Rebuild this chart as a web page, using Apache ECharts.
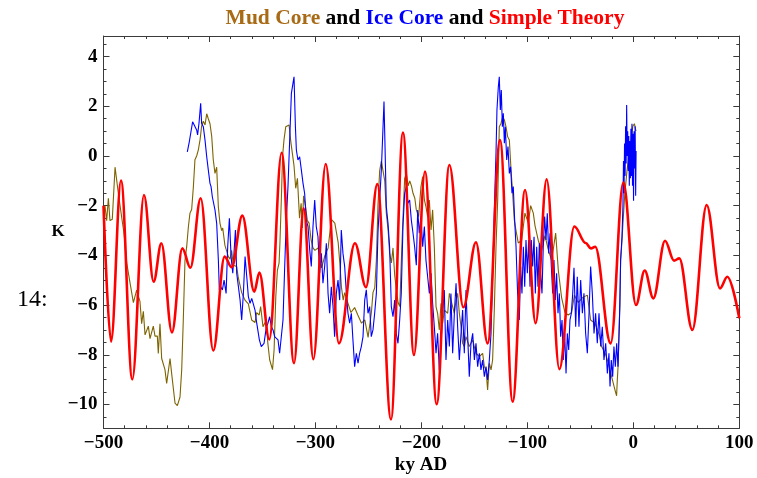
<!DOCTYPE html>
<html><head><meta charset="utf-8">
<script src="https://cdn.jsdelivr.net/npm/echarts@6/dist/echarts.min.js"></script>
<style>html,body{margin:0;padding:0;background:#fff}#c{width:757px;height:478px}</style>
</head><body><div id="c"></div>
<script>
// [age (ky AD), temperature anomaly (K)]
const mudCore = [[-500,-2.4],[-498.6,-2.0],[-497,-2.6],[-495.4,-1.7],[-493.9,-2.6],[-491.7,-2.55],[-489.1,-0.45],[-486,-1.5],[-482.9,-2.45],[-480.7,-3.1],[-478.1,-4.3],[-475,-5.1],[-471.8,-5.9],[-468.7,-5.4],[-465.6,-5.85],[-464,-6.75],[-462.4,-6.25],[-460.8,-7.2],[-457.7,-6.85],[-456.1,-7.35],[-453,-6.85],[-451.4,-7.25],[-449.2,-7.25],[-448.3,-7.95],[-446.7,-6.75],[-445.1,-8.15],[-442,-8.6],[-440.4,-9.15],[-437.2,-8.15],[-435.7,-8.75],[-432.5,-9.95],[-430.3,-10.05],[-427.8,-9.7],[-426.2,-8.6],[-424.7,-6.6],[-423.1,-4.2],[-421.5,-3.65],[-419.9,-2.85],[-418.4,-2.3],[-416.8,-2.15],[-415.2,-1.25],[-413.7,-0.15],[-412.1,0],[-410.5,0.25],[-408.9,0.65],[-407.4,1.2],[-405.8,1.4],[-404.2,1.25],[-402.6,1.7],[-401.1,1.5],[-399.5,1.3],[-397.9,0.8],[-396.4,-0.15],[-394.8,-0.7],[-393.2,-0.45],[-391.6,-2.05],[-390.1,-2.7],[-388.5,-3.0],[-387.5,-2.9],[-385.4,-3.6],[-383.8,-3.65],[-382.2,-4.05],[-380.6,-4.15],[-379.1,-3.8],[-377.5,-4.4],[-374.3,-4.45],[-372.8,-4.9],[-371.2,-5.2],[-369.6,-5.5],[-366.5,-5.8],[-363.3,-5.95],[-360.2,-6.6],[-357,-6.7],[-355.5,-6.3],[-353.1,-6.4],[-351.7,-6.06],[-349.5,-6.87],[-346.3,-6.6],[-345,-7.5],[-343.2,-8.2],[-340.5,-8.6],[-339,-7.8],[-337.4,-5.66],[-335.9,-4.6],[-334.3,-4.3],[-333.5,-3.5],[-332,-1.5],[-331,0],[-329.7,0.64],[-328,1.18],[-326.4,1.1],[-324.9,1.25],[-323.3,0.6],[-321.7,0.6],[-320.2,-0.4],[-318.6,-1.3],[-317,-0.9],[-315,-2.5],[-313.5,-1.9],[-312.3,-2.9],[-311.2,-1.6],[-309.5,-2.0],[-307.6,-2.6],[-306,-2.7],[-304,-3.4],[-302.3,-3.7],[-300.5,-3.8],[-297.5,-3.7],[-294.2,-4.5],[-291,-4.0],[-288,-3.7],[-285,-2.55],[-281.7,-2.7],[-278.5,-3.5],[-277,-4.3],[-275.4,-5.3],[-273.8,-5.8],[-272.4,-5.5],[-269.5,-5.9],[-266.5,-6.3],[-263,-6.1],[-260,-6.4],[-256.5,-6.73],[-253.4,-6.6],[-250.3,-7.3],[-247.2,-6.3],[-245.7,-5.5],[-244,-5.3],[-242.5,-4.2],[-241,-2.0],[-239.4,-0.6],[-237.8,-0.2],[-236.2,-0.6],[-234.6,-1.0],[-233.1,-2.3],[-231.4,-3.0],[-230,-3.9],[-228.3,-4.3],[-226.8,-3.7],[-225.2,-4.8],[-223.6,-5.4],[-222,-5.9],[-220.4,-6.06],[-219,-4.3],[-217.3,-2.4],[-215.8,-0.9],[-214.2,-0.7],[-212.5,-1.2],[-211,-1.0],[-209.4,-1.2],[-207.9,-1.5],[-206.2,-1.7],[-204.8,-2.17],[-202.6,-2.44],[-200.4,-1.23],[-198.8,-0.83],[-197.2,-1.77],[-195.7,-2.04],[-194.1,-2.44],[-192.5,-1.77],[-190.9,-2.98],[-189.4,-2.17],[-187.8,-3.65],[-186.2,-6.06],[-184.7,-6.33],[-183.1,-7.0],[-181.5,-5.93],[-179.9,-6.73],[-178.4,-6.2],[-175.2,-6.33],[-173.6,-5.53],[-172.1,-5.8],[-168.9,-6.33],[-167.3,-5.8],[-165.8,-5.53],[-164.2,-6.33],[-162.6,-6.87],[-161.1,-7.54],[-159.5,-7.67],[-157.9,-7.27],[-154.8,-7.67],[-151.6,-7.4],[-148.5,-7.94],[-145.3,-8.07],[-142.2,-7.94],[-140.6,-8.48],[-139,-8.61],[-137.5,-9.42],[-135.9,-8.34],[-134.3,-8.61],[-132.8,-8.21],[-131.2,-6.2],[-129.6,-3.65],[-128,-1.77],[-126.5,1.18],[-124.9,1.31],[-123.3,1.58],[-121.7,1.45],[-120.2,1.18],[-118.6,0.78],[-117,0.64],[-115.4,-0.56],[-113.9,-1.5],[-112.3,-2.58],[-110.7,-3.0],[-108.6,-3.5],[-105.4,-3.4],[-102.3,-2.3],[-99.1,-2.7],[-96.9,-2.0],[-94.4,-2.3],[-92.8,-2.8],[-89.7,-3.4],[-86.5,-3.8],[-83.4,-3.2],[-80.2,-3.78],[-77.1,-4.2],[-73.3,-3.1],[-70.8,-4.6],[-67.7,-5.7],[-64.5,-6.3],[-61.4,-6.4],[-58.2,-6.3],[-55.6,-5.6],[-52,-5.9],[-48,-5.7],[-43.4,-5.6],[-40.3,-6.6],[-36.2,-6.73],[-32,-7.2],[-29.9,-7.67],[-26,-8.0],[-23.6,-8.34],[-20.5,-8.88],[-17.3,-9.42],[-15.8,-9.65],[-15.1,-9.0],[-14.2,-8.3],[-13.5,-6.9],[-12.6,-6.0],[-12,-4.2],[-11,-3.6],[-9.5,-2.5],[-8,-1.5],[-6,-0.6],[-4,0.1],[-2,0.6],[-0.5,1.2],[1,1.3],[2.5,1.0]];

const iceCore = [[-420.9,0.17],[-419,0.58],[-417.7,0.64],[-415.9,1.38],[-414.3,1.45],[-412.1,1.05],[-411.2,0.85],[-409.9,1.31],[-408.3,2.12],[-407.4,1.31],[-405.8,1.18],[-404.2,0.64],[-402.6,-0.03],[-401.1,-0.56],[-399.5,-1.1],[-398.5,-1.23],[-397.3,-1.64],[-394.8,-2.17],[-393.2,-2.71],[-391.6,-4.19],[-390.7,-5.39],[-389.4,-5.26],[-387.8,-5.39],[-386.2,-4.99],[-384.3,-5.53],[-382.8,-3.65],[-381.2,-2.51],[-379.6,-4.05],[-378,-4.72],[-376.5,-3.65],[-375.5,-2.98],[-374.3,-4.72],[-372.7,-5.26],[-371.1,-5.8],[-369.6,-6.6],[-368,-5.53],[-366.4,-4.05],[-364.8,-4.86],[-363.3,-5.66],[-361.7,-5.93],[-360.1,-5.73],[-358.6,-5.8],[-357,-6.2],[-355.4,-6.73],[-352.9,-7.4],[-351.1,-7.67],[-348.5,-7.54],[-346.3,-6.87],[-344.8,-6.73],[-343.2,-6.47],[-341.6,-6.87],[-340,-7.0],[-338.5,-7.27],[-336.9,-7.27],[-335.3,-7.4],[-333.8,-7.94],[-332.2,-7.94],[-330.6,-6.6],[-329,-4.45],[-327.5,-2.58],[-325.9,-1.23],[-324.3,0.64],[-322.7,2.52],[-321.2,2.92],[-320.2,3.19],[-318.9,1.18],[-318,0.24],[-316.5,-0.16],[-314.9,-0.03],[-313.3,-0.56],[-311.7,-1.1],[-310.2,-1.5],[-308.6,-2.58],[-307,-2.84],[-305.4,-3.78],[-303.9,-4.45],[-302.3,-2.84],[-300.7,-1.77],[-299.2,-2.84],[-297.6,-3.25],[-296,-4.72],[-294.4,-3.92],[-292.9,-5.12],[-291.3,-4.45],[-289.7,-3.51],[-288.1,-5.53],[-286.6,-6.33],[-285,-5.26],[-283.4,-6.06],[-281.9,-7.27],[-280.3,-5.53],[-278.7,-4.99],[-277.1,-5.8],[-275.6,-2.98],[-274,-3.92],[-272.4,-4.45],[-270.8,-5.53],[-269.3,-6.33],[-267.7,-6.73],[-266.1,-6.33],[-264.6,-7.4],[-263,-8.48],[-261.4,-7.94],[-259.8,-8.34],[-258.3,-7.94],[-256.7,-7.67],[-255.1,-7.27],[-253.5,-5.8],[-252,-5.39],[-250.4,-6.33],[-248.8,-6.06],[-247.3,-7.27],[-245.7,-7.0],[-244.1,-6.33],[-242.5,-5.53],[-241,-3.11],[-239.4,-1.77],[-237.8,-0.56],[-236.2,1.18],[-235.3,2.19],[-234.4,0.51],[-233.1,-2.04],[-231.5,-2.71],[-230,-3.65],[-228.4,-6.06],[-226.8,-6.47],[-225.2,-5.8],[-223.7,-7.14],[-222.1,-7.54],[-220.5,-6.6],[-219,-5.53],[-217.4,-2.84],[-215.8,-1.5],[-214.2,-1.23],[-212.7,-1.9],[-211.1,-1.77],[-209.5,-2.58],[-207.9,-3.11],[-206.4,-3.65],[-204.8,-4.4],[-203.5,-2.17],[-202,-3.11],[-200.4,-2.44],[-198.8,-3.65],[-197.2,-2.84],[-195.7,-4.19],[-194.1,-4.86],[-192.5,-5.53],[-190.9,-4.72],[-189.4,-5.93],[-187.8,-6.87],[-186.2,-7.94],[-184.7,-7.14],[-183.1,-8.61],[-181.5,-7.54],[-179.9,-6.33],[-178.4,-5.39],[-176.8,-8.21],[-175.2,-6.6],[-173.6,-7.67],[-172.1,-5.53],[-170.5,-7.94],[-168.9,-6.33],[-167.3,-5.12],[-165.8,-6.87],[-164.2,-8.21],[-162.6,-7.14],[-161.1,-6.2],[-159.5,-7.94],[-157.9,-5.39],[-156.3,-7.27],[-154.8,-8.88],[-153.2,-7.54],[-151.6,-7.14],[-150,-8.21],[-148.5,-7.54],[-146.9,-8.48],[-145.3,-7.94],[-143.8,-8.61],[-142.2,-8.21],[-140.6,-8.88],[-139,-8.48],[-137.5,-9.01],[-135.9,-8.21],[-134.3,-7.14],[-132.8,-4.86],[-131.2,-2.17],[-129.6,0.11],[-128.7,1.85],[-127.4,2.79],[-126.5,3.19],[-125.5,1.85],[-124.6,2.66],[-123.6,1.18],[-122.7,1.72],[-121.7,0.51],[-120.8,1.18],[-119.5,-0.16],[-118.3,0.38],[-117,-0.7],[-115.8,-0.43],[-114.5,-1.5],[-113.3,-1.23],[-112,-2.58],[-110.7,-3.65],[-109.2,-5.53],[-107.6,-6.6],[-106.3,-4.45],[-105.1,-5.53],[-103.8,-3.65],[-102.5,-5.26],[-101.3,-3.38],[-100,-4.72],[-98.8,-3.38],[-97.5,-5.26],[-96.3,-3.38],[-95,-4.45],[-93.7,-3.25],[-92.5,-5.53],[-91.2,-3.65],[-90,-5.26],[-88.7,-3.51],[-87.5,-4.72],[-86.2,-5.53],[-85,-3.65],[-83.7,-2.44],[-82.4,-3.38],[-81.2,-2.31],[-79.9,-3.92],[-78.6,-3.11],[-77.4,-4.45],[-76.1,-5.53],[-74.9,-4.19],[-73.6,-5.8],[-72.4,-4.72],[-71.1,-6.33],[-69.8,-5.53],[-68.6,-7.27],[-67.3,-6.6],[-66.1,-8.21],[-64.8,-7.14],[-63.5,-8.75],[-62.3,-7.14],[-61,-7.81],[-59.8,-6.6],[-58.5,-6.33],[-57.2,-5.53],[-56,-4.5],[-54.4,-6.87],[-52.9,-4.86],[-51.3,-6.87],[-49.7,-4.99],[-48.1,-6.33],[-46.6,-5.53],[-45,-7.14],[-43.4,-7.94],[-41.8,-6.33],[-40.3,-4.45],[-38.7,-5.53],[-37.1,-7.14],[-35.6,-6.33],[-34,-7.54],[-32.4,-6.33],[-30.8,-7.67],[-29.3,-6.87],[-27.7,-8.21],[-26.1,-7.54],[-24.5,-8.75],[-23,-7.94],[-22,-9.28],[-20.8,-8.21],[-19.5,-8.88],[-18.3,-7.67],[-17,-8.48],[-15.7,-7.54],[-14.5,-8.48],[-13.2,-6.87],[-12,-4.19],[-10.7,-3.25],[-9.8,-2.0],[-9.3,-0.2],[-8.8,-1.5],[-8.3,0.5],[-7.8,-0.8],[-7.3,1.2],[-6.8,-0.3],[-6.3,2.05],[-5.8,0.0],[-5.3,1.0],[-4.8,-0.6],[-4.3,0.8],[-3.8,-1.2],[-3.3,0.6],[-2.8,-0.9],[-2.3,1.1],[-1.8,-0.8],[-1.3,1.3],[-0.8,-1.2],[-0.3,0.9],[0.2,-1.8],[0.7,1.0],[1.2,-0.5],[1.7,1.2],[2.2,-1.6],[2.6,0.2]];

const simpleTheory = [[-500,-2.0],[-492.9,-7.47],[-483.5,-0.99],[-472.8,-8.99],[-461.8,-1.57],[-452.7,-5.06],[-445.4,-3.51],[-435.4,-7.1],[-425.6,-3.72],[-418,-4.5],[-408.3,-1.7],[-396.4,-7.83],[-385.7,-4.05],[-379,-4.48],[-369,-2.4],[-357.7,-5.46],[-352.9,-4.69],[-343.5,-7.38],[-331.9,0.13],[-320.2,-8.34],[-311.1,-2.11],[-302,-8.18],[-290.3,-0.32],[-277.8,-7.54],[-262.7,-3.51],[-252.3,-5.28],[-241.6,-1.13],[-228.7,-10.6],[-217.4,0.94],[-207,-8.01],[-196.6,-0.63],[-185.6,-9.99],[-173.6,-0.36],[-160.4,-6.09],[-148.5,-3.47],[-137.5,-7.54],[-125.8,0.64],[-113.9,-9.89],[-102.2,-1.37],[-92.2,-6.73],[-81.8,-0.94],[-69.8,-8.58],[-55.7,-2.84],[-45,-3.5],[-40,-3.72],[-36,-3.65],[-21.4,-7.54],[-9.45,-1.07],[2.5,-6.0],[10.7,-4.61],[18.9,-5.73],[29.9,-3.41],[38.4,-4.21],[43.4,-4.12],[55.7,-7.0],[69.2,-1.97],[81.8,-5.33],[88.7,-4.86],[100,-6.53]];

const xRange = [-500, 100];
const yRange = [-10.96, 4.83];
const yMajorTicks = [-10, -8, -6, -4, -2, 0, 2, 4];
const yMinorTicks = [-10.5,-10,-9.5,-9,-8.5,-8,-7.5,-7,-6.5,-6,-5.5,-5,-4.5,-4,-3.5,-3,-2.5,-2,-1.5,-1,-0.5,0,0.5,1,1.5,2,2.5,3,3.5,4,4.5];

const SERIF = '"Liberation Serif","Times New Roman",serif';
const FRAME = '#3a3a3a';
const minus = v => String(v).replace('-', '\u2212');

const chart = echarts.init(document.getElementById('c'), null, {renderer: 'canvas'});

function xAx(pos, labels) {
  return {
    type: 'value', position: pos, min: xRange[0], max: xRange[1], interval: 100,
    axisLine: {show: true, onZero: false, lineStyle: {color: FRAME, width: 1}},
    axisTick: {show: true, inside: true, length: 6, lineStyle: {color: FRAME}},
    minorTick: {show: true, splitNumber: 5, length: 3, lineStyle: {color: FRAME}},
    splitLine: {show: false}, minorSplitLine: {show: false},
    axisLabel: {show: labels, formatter: minus, fontFamily: SERIF, fontWeight: 'bold', fontSize: 19, color: '#000', margin: 5}
  };
}
function yAx(pos, ticks, len, labels, line) {
  return {
    type: 'value', position: pos, min: yRange[0], max: yRange[1],
    axisLine: {show: line, onZero: false, lineStyle: {color: FRAME, width: 1}},
    axisTick: {show: true, inside: true, length: len, customValues: ticks, lineStyle: {color: FRAME}},
    splitLine: {show: false},
    axisLabel: {show: labels, customValues: yMajorTicks, formatter: minus, fontFamily: SERIF, fontWeight: 'bold', fontSize: 19, color: '#000', margin: 6}
  };
}

const TF = 'bold 21.5px ' + SERIF;
chart.setOption({
  animation: false,
  backgroundColor: '#fff',
  grid: {left: 103.5, right: 17.7, top: 36, bottom: 49.7, containLabel: false},
  xAxis: [xAx('bottom', true), xAx('top', false)],
  yAxis: [yAx('left', yMajorTicks, 6, true, true), yAx('right', yMajorTicks, 6, false, true),
          yAx('left', yMinorTicks, 3, false, false), yAx('right', yMinorTicks, 3, false, false)],
  series: [
    {name: 'Mud Core', type: 'line', data: mudCore, showSymbol: false, symbol: 'none',
     lineStyle: {color: '#7d6400', width: 1.1}, z: 2},
    {name: 'Ice Core', type: 'line', data: iceCore, showSymbol: false, symbol: 'none',
     lineStyle: {color: '#0000ff', width: 1.1}, z: 3},
    {name: 'Simple Theory', type: 'line', data: simpleTheory, showSymbol: false, symbol: 'none',
     smooth: 0.36, smoothMonotone: 'x', lineStyle: {color: '#ff0000', width: 2.6}, z: 4}
  ],
  graphic: [
    {type: 'text', x: 425, y: 18, style: {
      text: '{m|Mud Core} {k|and} {b|Ice Core} {k|and} {r|Simple Theory}',
      align: 'center', verticalAlign: 'middle',
      font: TF, fill: '#000',
      rich: {
        m: {fill: '#a86a14', font: TF},
        k: {fill: '#000', font: TF},
        b: {fill: '#0000ff', font: TF},
        r: {fill: '#ff0000', font: TF}
      }}},
    {type: 'text', x: 421, y: 465, style: {text: 'ky AD', align: 'center', verticalAlign: 'middle', font: 'bold 19px ' + SERIF, fill: '#000'}},
    {type: 'text', x: 58, y: 232, style: {text: 'K', align: 'center', verticalAlign: 'middle', font: 'bold 17px ' + SERIF, fill: '#000'}},
    {type: 'text', x: 17, y: 300, style: {text: '14:', align: 'left', verticalAlign: 'middle', font: '24px ' + SERIF, fill: '#000'}}
  ]
});
</script></body></html>
